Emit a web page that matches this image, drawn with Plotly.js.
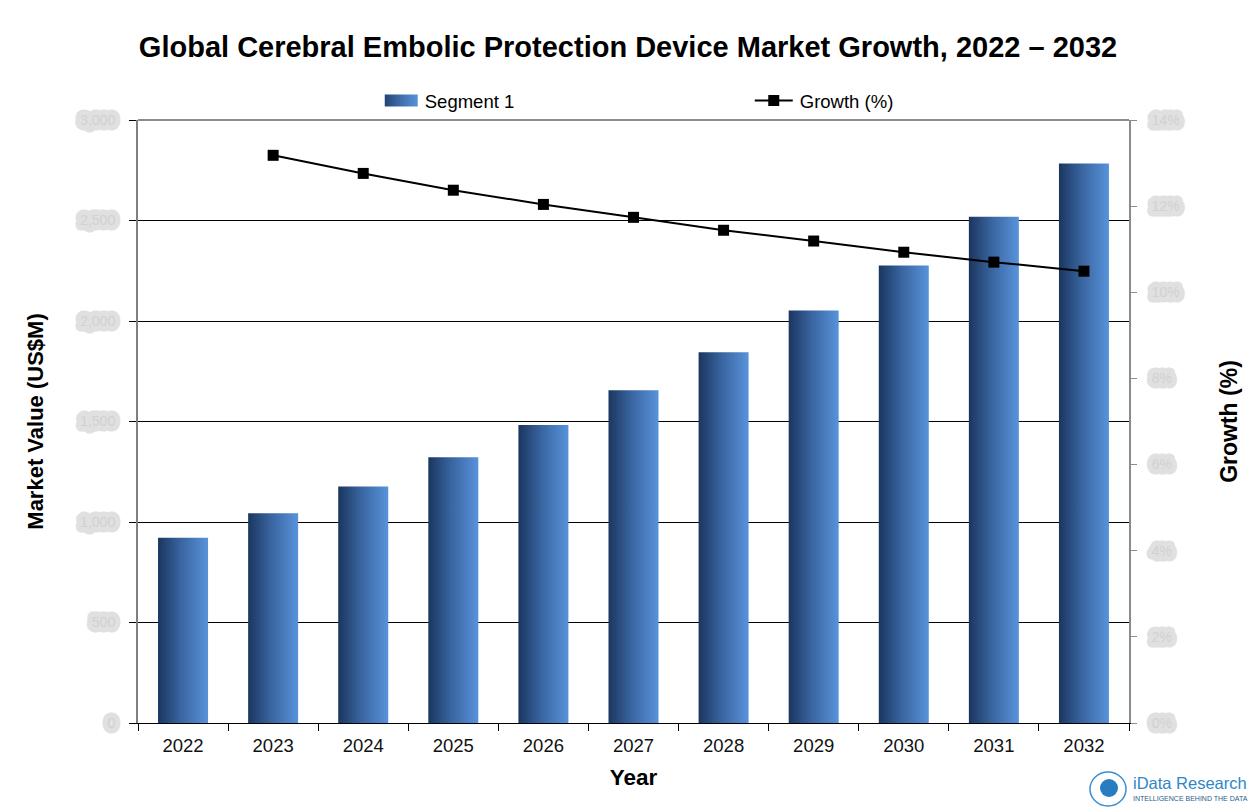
<!DOCTYPE html>
<html>
<head>
<meta charset="utf-8">
<script src="https://cdn.plot.ly/plotly-3.0.1.min.js"></script>
<style>
html,body{margin:0;padding:0;background:#fff;}
#chart{width:1256px;height:810px;}
.yaxislayer-above text, .overaxes-above text {
  fill: #cdcdcd !important;
  stroke: #dddddd; stroke-width: 11px; stroke-linejoin: round; stroke-linecap: round;
  paint-order: stroke fill; opacity: 0.9;
}
.barlayer .point path { fill: url(#barGrad) !important; }
.legend .traces:first-of-type .legendpoints path {
  d: path("M-25,6H13V-6H-25Z");
  fill: url(#barGrad) !important;
}
.legend .traces:nth-of-type(2) .legendlines path { d: path("M-5,0h38"); }
.legend .traces:nth-of-type(2) .legendpoints path { transform: translate(14px, 0px); }
</style>
</head>
<body>
<svg width="0" height="0" style="position:absolute">
  <defs>
    <linearGradient id="barGrad" x1="0" y1="0" x2="1" y2="0">
      <stop offset="0" stop-color="#1a365f"/>
      <stop offset="0.45" stop-color="#39649f"/>
      <stop offset="1" stop-color="#5893db"/>
    </linearGradient>
  </defs>
</svg>
<div id="chart"></div>
<script>
const years = ["2022","2023","2024","2025","2026","2027","2028","2029","2030","2031","2032"];
const marketValue = [922, 1043, 1177, 1322, 1482, 1656, 1845, 2052, 2276, 2519, 2783];
const growthYears = ["2023","2024","2025","2026","2027","2028","2029","2030","2031","2032"];
const growthPct = [13.18, 12.76, 12.37, 12.04, 11.74, 11.44, 11.19, 10.93, 10.70, 10.49];

const font = "Liberation Sans, Arial, sans-serif";

const traces = [
  {
    type: "bar", name: "Segment 1", x: years, y: marketValue,
    marker: {color: "#3a67a3", line: {width: 0}},
    width: 0.555, hoverinfo: "x+y"
  },
  {
    type: "scatter", mode: "lines+markers", name: "Growth (%)",
    x: growthYears, y: growthPct, yaxis: "y2",
    line: {color: "#000000", width: 2},
    marker: {symbol: "square", size: 11, color: "#000000"}
  }
];

const layout = {
  width: 1256, height: 810,
  margin: {l: 138, r: 127, t: 120, b: 87, pad: 0},
  paper_bgcolor: "#ffffff", plot_bgcolor: "#ffffff",
  font: {family: font, color: "#000"},
  title: {
    text: "<b>Global Cerebral Embolic Protection Device Market Growth, 2022 \u2013 2032</b>",
    font: {family: font, size: 29, color: "#000"},
    x: 0.5, xanchor: "center", y: 1 - 47/810, yanchor: "middle", yref: "container"
  },
  showlegend: true,
  legend: {
    orientation: "h", x: 0.249, xanchor: "left", y: 1.0315, yanchor: "middle",
    font: {family: font, size: 18.5, color: "#000"},
    entrywidth: 330, entrywidthmode: "pixels", bgcolor: "rgba(0,0,0,0)"
  },
  bargap: 0.445,
  xaxis: {
    type: "category", categoryorder: "array", categoryarray: years, range: [-0.5, 10.5],
    showline: true, linecolor: "#000", linewidth: 1,
    ticks: "outside", ticklen: 7, tickcolor: "#000", tickson: "boundaries",
    ticklabelstandoff: 6,
    tickfont: {family: font, size: 18.5, color: "#111"},
    showgrid: false, zeroline: false,
    title: {text: "<b>Year</b>", font: {family: font, size: 22.5, color: "#000"}, standoff: 14}
  },
  yaxis: {
    range: [0, 3000], dtick: 500, tickformat: ",",
    showline: true, linecolor: "#808080", linewidth: 2,
    ticks: "outside", ticklen: 7, tickcolor: "#000",
    showgrid: true, gridcolor: "#000", gridwidth: 1, zeroline: false,
    ticklabelstandoff: 11,
    tickfont: {family: font, size: 14, color: "#cdcdcd"},
    title: {text: "<b>Market Value (US$M)</b>", font: {family: font, size: 22, color: "#000"}, standoff: 30}
  },
  yaxis2: {
    overlaying: "y", side: "right", range: [0, 14], dtick: 2, ticksuffix: "%",
    showline: true, linecolor: "#8c8c8c", linewidth: 2,
    ticks: "outside", ticklen: 6, tickcolor: "#8c8c8c",
    showgrid: false, zeroline: false,
    ticklabelstandoff: 12,
    tickfont: {family: font, size: 14, color: "#cdcdcd"},
    title: {text: "<b>Growth (%)</b>", font: {family: font, size: 23, color: "#000"}, standoff: 42}
  },
  shapes: [
    {type: "line", xref: "paper", yref: "paper", x0: 0, x1: 1, y0: 1, y1: 1,
     line: {color: "#8c8c8c", width: 2}},
    {type: "circle", xref: "paper", yref: "paper",
     x0: (1090-138)/991, x1: (1126-138)/991, y0: -(806-723)/603, y1: -(772-723)/603,
     line: {color: "#3b8fd0", width: 1.5}, fillcolor: "rgba(0,0,0,0)"},
    {type: "circle", xref: "paper", yref: "paper",
     x0: (1100-138)/991, x1: (1118-138)/991, y0: -(797-723)/603, y1: -(779-723)/603,
     line: {color: "#1e6fb5", width: 0}, fillcolor: "#2a7cc0"}
  ],
  annotations: [
    {text: "iData Research", xref: "paper", yref: "paper", x: (1131-138)/991, y: -(783-723)/603,
     xanchor: "left", yanchor: "middle", showarrow: false,
     font: {family: font, size: 16.5, color: "#2f86c8"}},
    {text: "INTELLIGENCE BEHIND THE DATA", xref: "paper", yref: "paper", x: (1131-138)/991, y: -(798-723)/603,
     xanchor: "left", yanchor: "middle", showarrow: false,
     font: {family: font, size: 7, color: "#2b5d8a"}}
  ]
};

Plotly.newPlot("chart", traces, layout, {displayModeBar: false, responsive: false});
</script>
</body>
</html>
